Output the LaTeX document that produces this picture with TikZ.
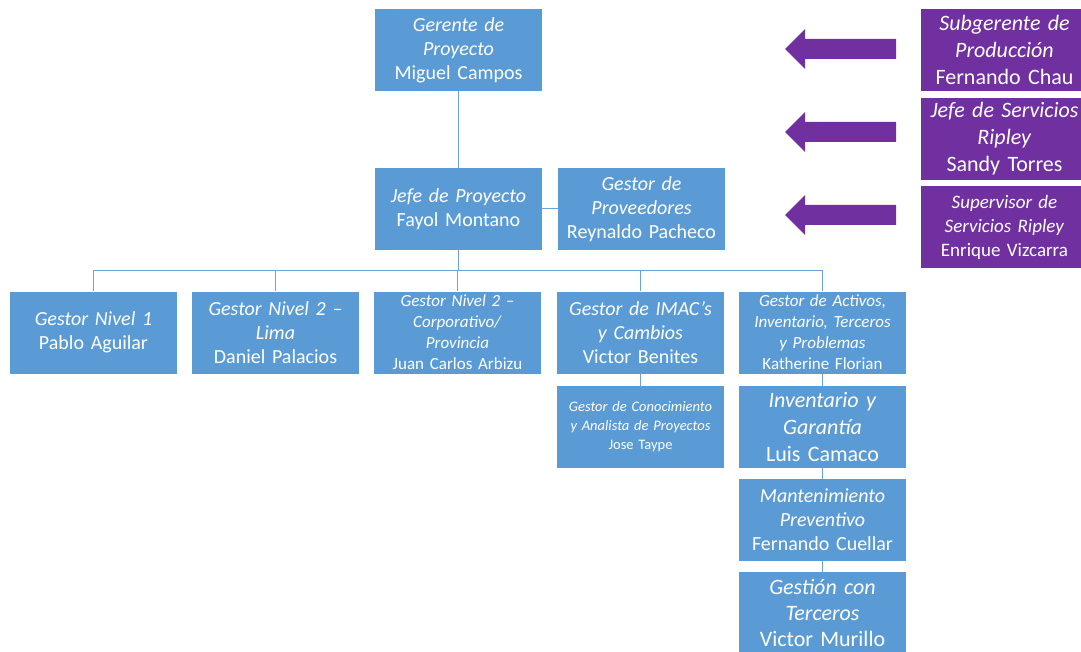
\documentclass[tikz,border=0pt]{standalone}
\usepackage{fontspec}
\setmainfont{Carlito}
\definecolor{boxblue}{HTML}{5B9BD5}
\definecolor{linkblue}{HTML}{6AA5DA}
\definecolor{mgmt}{HTML}{7030A0}
\newcommand{\fs}[2]{\fontsize{#1}{#2}\selectfont}
\tikzset{
  orgbox/.style={fill=boxblue, text=white, text width=167pt, minimum height=82pt,
    inner sep=0pt, align=center, font=\fs{20}{24}},
  mgmtbox/.style={orgbox, fill=mgmt},
  link/.style={draw=linkblue, line width=1pt},
  bigarrow/.style={fill=mgmt, draw=none}
}
\begin{document}
\begin{tikzpicture}[x=1pt, y=-1pt]
\useasboundingbox (0,0) rectangle (1081,652);

% upper management
\node[orgbox] (ger) at (458.5,50) {\textit{Gerente de}\\\textit{Proyecto}\\Miguel Campos};
\node[orgbox] (jefe) at (458.5,209) {\textit{Jefe de Proyecto}\\Fayol Montano};
\node[orgbox] (prov) at (641.5,209) {\textit{Gestor de}\\\textit{Proveedores}\\Reynaldo Pacheco};

% client side
\node[mgmtbox, font=\fs{22}{27}] (sub) at (1004.5,50) {\textit{Subgerente de}\\\textit{Producción}\\Fernando Chau};
\node[mgmtbox, font=\fs{22}{27}] (jser) at (1004.5,139) {\textit{Jefe de Servicios}\\\textit{Ripley}\\Sandy Torres};
\node[mgmtbox, font=\fs{19}{24}] (sup) at (1004.5,227.5) {\textit{Supervisor de}\\\textit{Servicios Ripley}\\Enrique Vizcarra};

% arrows towards the project team
\foreach \c in {49, 132, 215}{
  \fill[bigarrow] (785,\c) -- (805,\c-20) -- (805,\c-10) -- (896,\c-10)
    -- (896,\c+10) -- (805,\c+10) -- (805,\c+20) -- cycle;
}

% second level
\node[orgbox] (n1) at (93.5,332.5) {\textit{Gestor Nivel 1}\\Pablo Aguilar};
\node[orgbox] (n2) at (275.5,332.5) {\textit{Gestor Nivel 2 –}\\\textit{Lima}\\Daniel Palacios};
\node[orgbox, font=\fs{17}{21}] (n3) at (457.5,332.5) {\textit{Gestor Nivel 2 –}\\\textit{Corporativo/}\\\textit{Provincia}\\Juan Carlos Arbizu};
\node[orgbox] (imac) at (640.5,332.5) {\textit{Gestor de IMAC’s}\\\textit{y Cambios}\\Victor Benites};
\node[orgbox, font=\fs{17}{21}] (kat) at (822.5,332.5) {\textit{Gestor de Activos,}\\\textit{Inventario, Terceros}\\\textit{y Problemas}\\Katherine Florian};

% third level and below
\node[orgbox, font=\fs{14.5}{19}] (jose) at (640.5,427) {\textit{Gestor de Conocimiento}\\\textit{y Analista de Proyectos}\\Jose Taype};
\node[orgbox, font=\fs{22}{27}] (luis) at (822.5,427) {\textit{Inventario y}\\\textit{Garantía}\\Luis Camaco};
\node[orgbox] (mant) at (822.5,520) {\textit{Mantenimiento}\\\textit{Preventivo}\\Fernando Cuellar};
\node[orgbox, font=\fs{22}{26}] (ter) at (822.5,613) {\textit{Gestión con}\\\textit{Terceros}\\Victor Murillo};

% connectors
\coordinate (bus) at (458.5,271);
\draw[link] (ger) -- (jefe);
\draw[link] (jefe) -- (prov);
\foreach \ch in {n1,n2,n3,imac,kat}{
  \draw[link] (jefe.south) -- (bus) -| (\ch.north);
}
\draw[link] (imac) -- (jose);
\draw[link] (kat) -- (luis);
\draw[link] (luis) -- (mant);
\draw[link] (mant) -- (ter);
\end{tikzpicture}
\end{document}
